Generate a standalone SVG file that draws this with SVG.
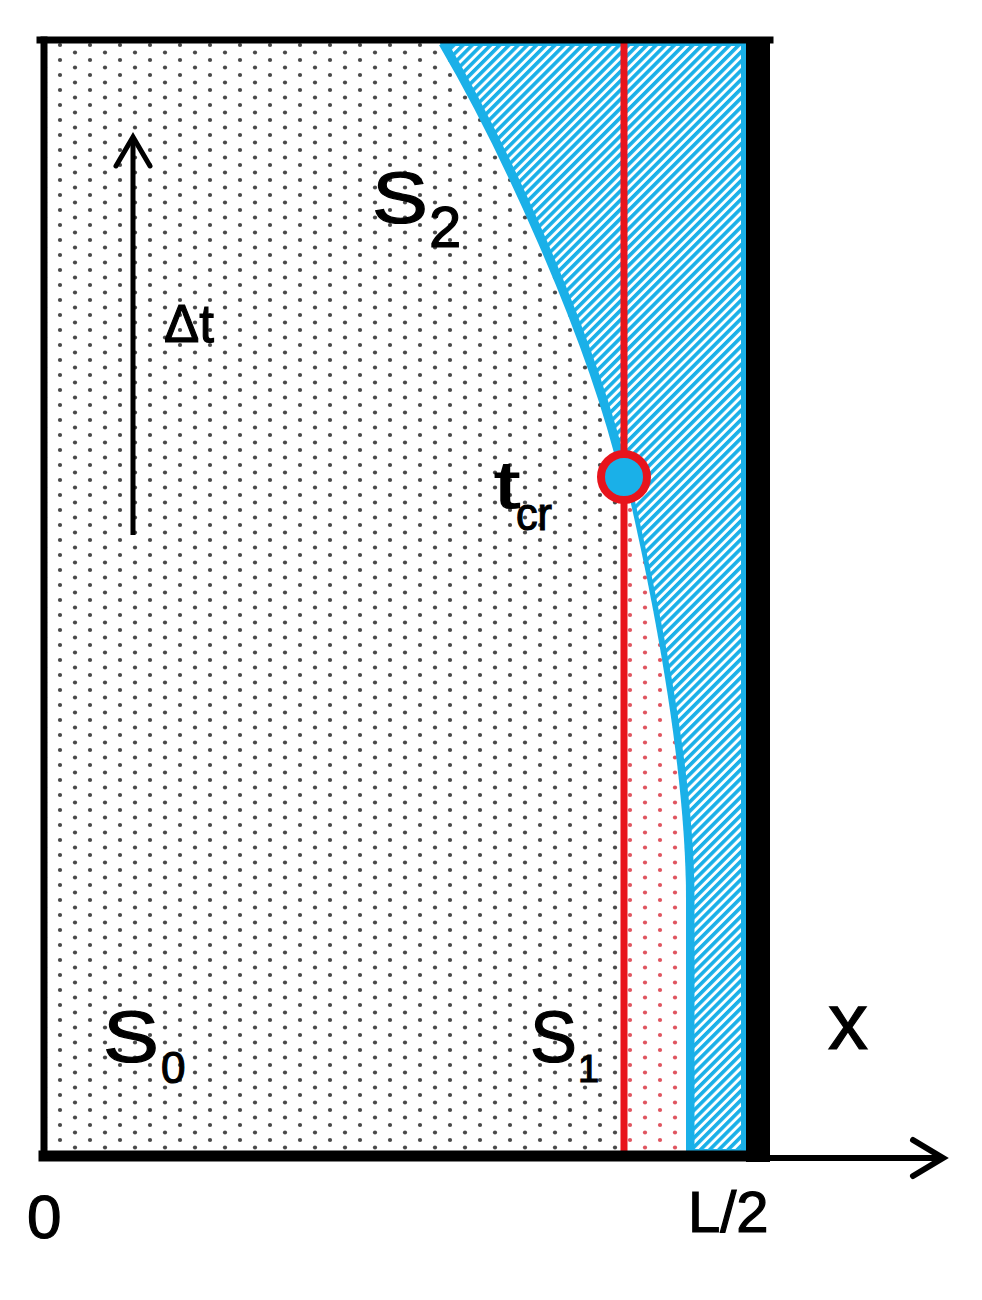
<svg xmlns="http://www.w3.org/2000/svg" width="982" height="1300" viewBox="0 0 982 1300">
<style>
text{font-family:"Liberation Sans",Arial,sans-serif;fill:#000;stroke:#000;stroke-width:1.2}
.big{font-size:72px}
.ax{stroke:#000;fill:none;stroke-linecap:square}
</style>
<defs>
<pattern id="gdots" patternUnits="userSpaceOnUse" x="0" y="0" width="30" height="15">
<rect width="30" height="15" fill="#fff"/>
<circle cx="0" cy="0" r="2.1" fill="#4a4a4a"/>
<circle cx="30" cy="0" r="2.1" fill="#4a4a4a"/>
<circle cx="0" cy="15" r="2.1" fill="#4a4a4a"/>
<circle cx="30" cy="15" r="2.1" fill="#4a4a4a"/>
<circle cx="15" cy="7.5" r="2.1" fill="#4a4a4a"/>
</pattern>
<pattern id="rdots" patternUnits="userSpaceOnUse" x="0" y="0" width="30" height="15">
<rect width="30" height="15" fill="#fff"/>
<circle cx="0" cy="0" r="2.1" fill="#e05560"/>
<circle cx="30" cy="0" r="2.1" fill="#e05560"/>
<circle cx="0" cy="15" r="2.1" fill="#e05560"/>
<circle cx="30" cy="15" r="2.1" fill="#e05560"/>
<circle cx="15" cy="7.5" r="2.1" fill="#e05560"/>
</pattern>
<pattern id="hatch" patternUnits="userSpaceOnUse" width="6.5" height="6.5" patternTransform="rotate(45)">
<rect width="6.5" height="6.5" fill="#fff"/>
<rect width="3.6" height="6.5" fill="#1ab0e8"/>
</pattern>
</defs>

<g id="background">
<rect x="44" y="40" width="702" height="1115" fill="url(#gdots)"/>
</g>

<g id="region-S2">
<path d="M443,43 C500,140 590,330 625,478 C649,580 690,760 690,900 L690,1152 L744,1152 L744,43 Z" fill="url(#hatch)" stroke="#1ab0e8" stroke-width="6" stroke-linejoin="round"/>
<path d="M443,43 C500,140 590,330 625,478 C649,580 690,760 690,900 L690,1152" fill="none" stroke="#1ab0e8" stroke-width="9"/>
</g>

<g id="region-S1">
<path d="M625,478 C649,580 686,760 686,900 L686,1152 L624,1152 Z" fill="url(#rdots)"/>
</g>

<g id="connectors">
<line x1="624" y1="42" x2="624" y2="1155" stroke="#e8141c" stroke-width="7"/>
<line class="ax" x1="40" y1="40" x2="770" y2="40" stroke-width="7"/>
<line class="ax" x1="44" y1="40" x2="44" y2="1156" stroke-width="7"/>
<line class="ax" x1="44" y1="1156" x2="760" y2="1156" stroke-width="11"/>
<rect x="746" y="37" width="24" height="1125" fill="#000"/>
<line x1="770" y1="1158" x2="940" y2="1158" stroke="#000" stroke-width="6"/>
<polyline points="913,1140 943,1158 913,1176" fill="none" stroke="#000" stroke-width="6" stroke-linecap="round" stroke-linejoin="miter"/>
<line x1="133" y1="137" x2="133" y2="535" stroke="#000" stroke-width="5"/>
<polyline points="116,166 133,137 150,166" fill="none" stroke="#000" stroke-width="5" stroke-linecap="round"/>
</g>

<g id="tcr-point">
<circle cx="624" cy="477" r="23" fill="#1ab0e8" stroke="#e8141c" stroke-width="8"/>
</g>

<g id="labels">
<text class="big" x="372" y="223" textLength="56" lengthAdjust="spacingAndGlyphs">S</text><text x="429" y="247" font-size="58">2</text>
<text x="164" y="342" font-size="54" textLength="50" lengthAdjust="spacingAndGlyphs">Δt</text>
<text x="494" y="508" font-size="66" textLength="26" lengthAdjust="spacingAndGlyphs">t</text><text x="516" y="530" font-size="46" textLength="36" lengthAdjust="spacingAndGlyphs">cr</text>
<text class="big" x="103" y="1062" textLength="56" lengthAdjust="spacingAndGlyphs">S</text><text x="161" y="1083" font-size="44">0</text>
<text class="big" x="530" y="1062" textLength="47" lengthAdjust="spacingAndGlyphs">S</text><text x="578" y="1082" font-size="38">1</text>
<text x="828" y="1049" font-size="80">x</text>
<text x="27" y="1238" font-size="62">0</text>
<text x="688" y="1232" font-size="58">L/2</text>
</g>
</svg>
